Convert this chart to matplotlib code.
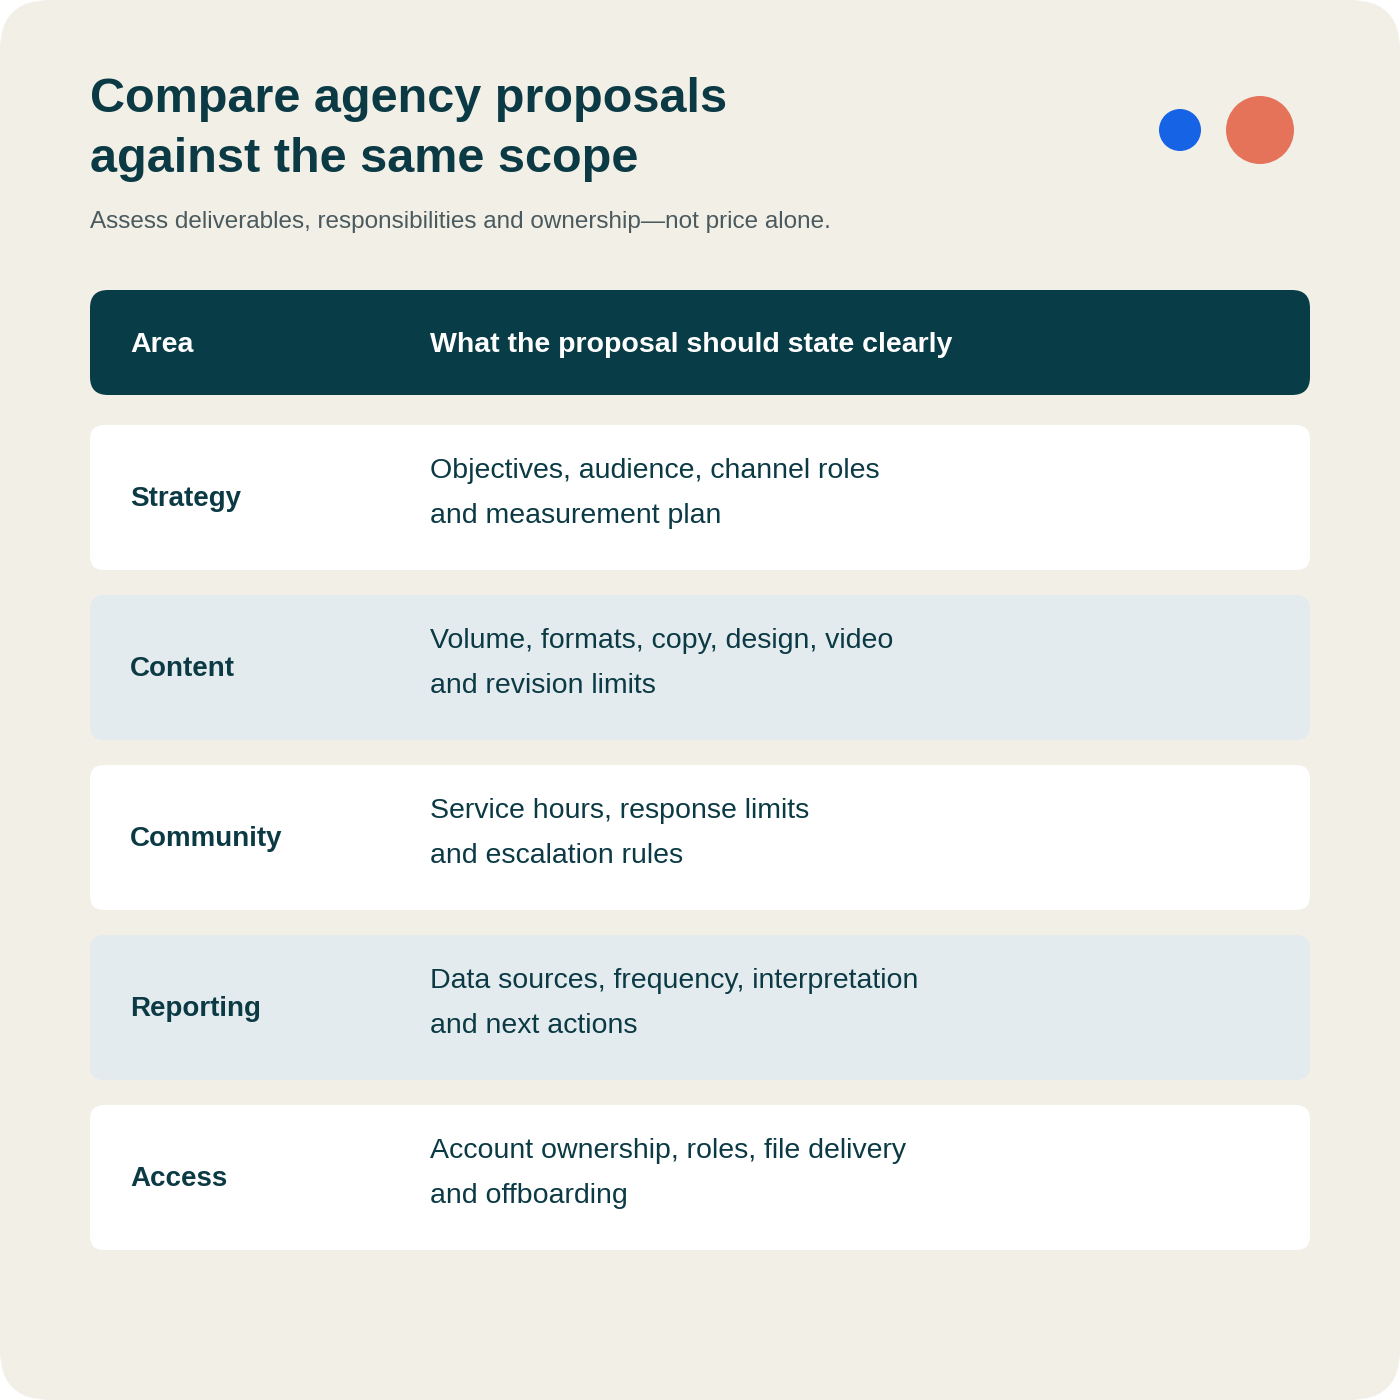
import matplotlib.pyplot as plt
from matplotlib.patches import FancyBboxPatch, Circle

plt.rcParams['font.family'] = ['Liberation Sans', 'DejaVu Sans']

title = "Compare agency proposals\nagainst the same scope"
subtitle = "Assess deliverables, responsibilities and ownership\u2014not price alone."
headers = ["Area", "What the proposal should state clearly"]
areas = ["Strategy", "Content", "Community", "Reporting", "Access"]
details = [
    ["Objectives, audience, channel roles", "and measurement plan"],
    ["Volume, formats, copy, design, video", "and revision limits"],
    ["Service hours, response limits", "and escalation rules"],
    ["Data sources, frequency, interpretation", "and next actions"],
    ["Account ownership, roles, file delivery", "and offboarding"],
]

ink = "#0B3A45"
fig = plt.figure(figsize=(14, 14), dpi=100)
fig.patch.set_facecolor("white")
ax = fig.add_axes([0, 0, 1, 1])
ax.set_xlim(0, 1400)
ax.set_ylim(1400, 0)
ax.axis("off")

ax.add_patch(FancyBboxPatch((0, 0), 1400, 1400, boxstyle="round,pad=0,rounding_size=50",
                            fc="#F2EFE7", ec="none"))

ax.text(90, 100, title.split("\n")[0], fontsize=35, fontweight="bold", color=ink, va="center")
ax.text(90, 160, title.split("\n")[1], fontsize=35, fontweight="bold", color=ink, va="center")
ax.text(90, 222, subtitle, fontsize=17.5, color="#4A5A5E", va="center")

ax.add_patch(Circle((1180, 130), 21, fc="#1763E6", ec="none"))
ax.add_patch(Circle((1260, 130), 34, fc="#E5735A", ec="none"))

ax.add_patch(FancyBboxPatch((90, 290), 1220, 105, boxstyle="round,pad=0,rounding_size=18",
                            fc="#083C47", ec="none"))
ax.text(130, 345, headers[0], fontsize=20.5, fontweight="bold", color="white", va="center")
ax.text(430, 345, headers[1], fontsize=20.5, fontweight="bold", color="white", va="center")

top0, step, h = 425, 170, 145
for i, (a, d) in enumerate(zip(areas, details)):
    y = top0 + i * step
    fc = "white" if i % 2 == 0 else "#E3EBEE"
    ax.add_patch(FancyBboxPatch((90, y), 1220, h, boxstyle="round,pad=0,rounding_size=14",
                                fc=fc, ec="none"))
    ax.text(130, y + h / 2 + 2, a, fontsize=20, fontweight="bold", color=ink, va="center")
    ax.text(430, y + 46, d[0], fontsize=20.5, color=ink, va="center")
    ax.text(430, y + 91, d[1], fontsize=20.5, color=ink, va="center")

fig.savefig("out.png", dpi=100)
